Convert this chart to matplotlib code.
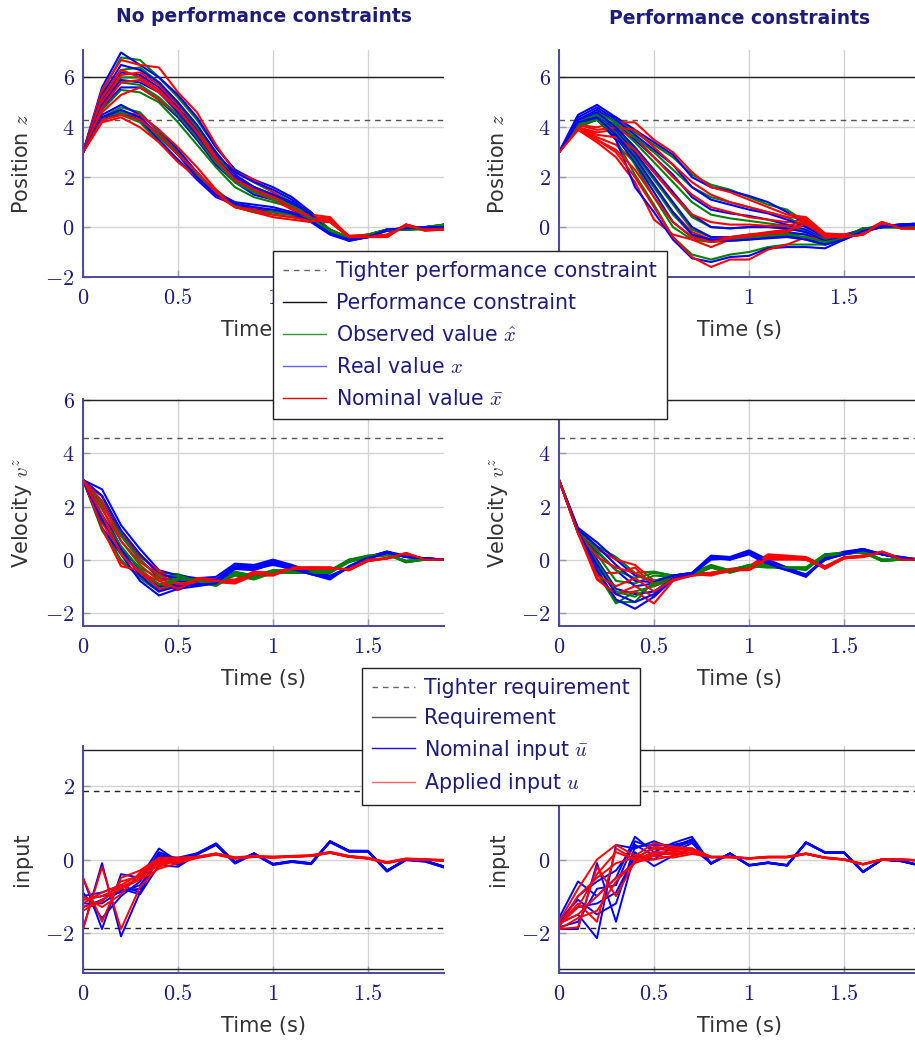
import matplotlib
matplotlib.use('Agg')
import matplotlib.pyplot as plt
from matplotlib.lines import Line2D
from matplotlib.ticker import FuncFormatter

plt.rcParams['font.family'] = ['DejaVu Sans']
plt.rcParams['mathtext.fontset'] = 'cm'

# ---------------- data ----------------
T = [0.0, 0.1, 0.2, 0.3, 0.4, 0.5, 0.6, 0.7, 0.8, 0.9,
     1.0, 1.1, 1.2, 1.3, 1.4, 1.5, 1.6, 1.7, 1.8, 1.9]

col_titles = ['No performance constraints', 'Performance constraints']
x_ticks = [0, 0.5, 1, 1.5]

# Position z, no performance constraints
pos_nc_obs = [
    [3.0, 5.4, 6.8, 6.7, 6.0, 5.2, 4.3, 3.2, 2.3, 1.8, 1.4, 1.0, 0.6, -0.1, -0.45, -0.35, -0.15, -0.1, -0.1, 0.1],
    [3.0, 5.0, 6.0, 6.0, 5.5, 4.7, 3.8, 2.8, 2.1, 1.6, 1.3, 0.9, 0.5, -0.1, -0.4, -0.3, -0.1, -0.1, -0.05, 0.1],
    [3.0, 4.7, 5.5, 5.4, 5.0, 4.2, 3.3, 2.4, 1.6, 1.2, 1.0, 0.8, 0.45, -0.1, -0.5, -0.3, -0.1, -0.1, 0.0, 0.1],
    [3.0, 4.4, 4.8, 4.6, 3.8, 3.0, 2.1, 1.5, 0.9, 0.7, 0.7, 0.6, 0.4, -0.1, -0.45, -0.35, -0.1, -0.1, -0.05, 0.1],
    [3.0, 4.3, 4.5, 4.2, 3.4, 2.7, 2.0, 1.3, 0.8, 0.6, 0.5, 0.4, 0.3, -0.2, -0.5, -0.35, -0.1, -0.05, 0.0, 0.1],
    [3.0, 5.2, 6.3, 6.4, 5.8, 5.0, 4.0, 3.0, 2.0, 1.5, 1.1, 0.8, 0.45, -0.15, -0.45, -0.3, -0.1, -0.1, -0.05, 0.1],
    [3.0, 4.9, 5.8, 5.7, 5.2, 4.5, 3.6, 2.6, 1.8, 1.4, 1.2, 0.85, 0.5, -0.1, -0.45, -0.3, -0.1, -0.1, -0.05, 0.1],
    [3.0, 4.4, 4.6, 4.4, 3.6, 2.9, 2.1, 1.4, 0.85, 0.65, 0.6, 0.5, 0.35, -0.15, -0.5, -0.35, -0.1, -0.1, 0.0, 0.1],
]
pos_nc_real = [
    [3.0, 5.6, 7.0, 6.5, 6.0, 5.3, 4.4, 3.2, 2.3, 1.9, 1.6, 1.2, 0.6, -0.2, -0.55, -0.4, -0.15, -0.1, 0.0, 0.0],
    [3.0, 5.1, 6.2, 6.1, 5.6, 4.8, 3.9, 2.9, 2.2, 1.8, 1.5, 1.1, 0.5, -0.2, -0.5, -0.4, -0.1, -0.1, 0.0, 0.0],
    [3.0, 4.8, 5.6, 5.6, 5.1, 4.4, 3.5, 2.5, 1.8, 1.3, 1.1, 0.8, 0.4, -0.2, -0.45, -0.35, -0.1, -0.05, 0.0, 0.05],
    [3.0, 4.5, 4.9, 4.5, 3.9, 3.1, 2.2, 1.4, 1.0, 0.9, 0.8, 0.6, 0.3, -0.2, -0.5, -0.35, -0.1, -0.05, 0.0, 0.0],
    [3.0, 4.3, 4.6, 4.3, 3.5, 2.7, 1.9, 1.2, 0.9, 0.7, 0.6, 0.5, 0.2, -0.3, -0.55, -0.4, -0.1, -0.1, 0.0, 0.0],
    [3.0, 5.3, 6.5, 6.3, 5.8, 5.0, 4.1, 3.0, 2.1, 1.6, 1.3, 0.9, 0.5, -0.25, -0.5, -0.4, -0.1, -0.05, 0.0, 0.05],
    [3.0, 4.9, 5.9, 5.8, 5.4, 4.6, 3.7, 2.7, 2.0, 1.6, 1.3, 1.0, 0.5, -0.2, -0.5, -0.4, -0.1, -0.05, 0.0, 0.05],
    [3.0, 4.4, 4.7, 4.4, 3.7, 2.9, 2.0, 1.3, 0.95, 0.8, 0.7, 0.55, 0.25, -0.25, -0.5, -0.4, -0.1, -0.05, 0.0, 0.0],
]
pos_nc_nom = [
    [3.0, 5.5, 6.7, 6.5, 6.4, 5.4, 4.6, 3.3, 2.2, 1.9, 1.4, 0.9, 0.5, 0.4, -0.4, -0.4, -0.4, 0.1, -0.1, -0.1],
    [3.0, 5.0, 6.1, 6.2, 5.7, 4.9, 4.0, 2.8, 1.8, 1.6, 1.2, 0.8, 0.4, 0.3, -0.35, -0.35, -0.35, 0.1, -0.1, -0.05],
    [3.0, 4.6, 5.3, 5.6, 5.1, 4.5, 3.6, 2.6, 1.9, 1.4, 1.1, 0.7, 0.3, 0.2, -0.4, -0.3, -0.4, 0.1, -0.15, -0.1],
    [3.0, 4.3, 4.6, 4.5, 3.9, 3.2, 2.4, 1.5, 0.8, 0.8, 0.6, 0.5, 0.3, 0.3, -0.4, -0.35, -0.35, 0.05, -0.1, -0.05],
    [3.0, 4.2, 4.4, 4.0, 3.4, 2.6, 2.0, 1.3, 0.8, 0.6, 0.4, 0.3, 0.2, 0.2, -0.4, -0.4, -0.3, 0.1, -0.1, -0.1],
    [3.0, 5.2, 6.3, 6.0, 5.5, 4.7, 3.8, 2.7, 2.0, 1.5, 1.3, 0.8, 0.4, 0.35, -0.4, -0.35, -0.4, 0.1, -0.1, -0.1],
    [3.0, 4.8, 5.8, 5.9, 5.4, 4.7, 3.8, 2.7, 1.9, 1.5, 1.2, 0.75, 0.35, 0.3, -0.35, -0.3, -0.35, 0.1, -0.1, -0.05],
    [3.0, 4.3, 4.5, 4.3, 3.7, 2.9, 2.2, 1.4, 0.8, 0.7, 0.5, 0.4, 0.25, 0.25, -0.4, -0.4, -0.3, 0.05, -0.1, -0.1],
]

# Position z, performance constraints
pos_pc_obs = [
    [3.0, 4.3, 4.6, 4.4, 3.8, 3.3, 2.8, 2.1, 1.7, 1.5, 1.2, 0.9, 0.7, 0.2, -0.35, -0.4, -0.05, 0.0, 0.0, 0.05],
    [3.0, 4.2, 4.5, 4.1, 3.4, 2.6, 1.8, 1.0, 0.5, 0.35, 0.25, 0.15, 0.05, -0.15, -0.45, -0.4, -0.05, 0.0, 0.0, 0.05],
    [3.0, 4.1, 4.4, 3.8, 2.9, 1.9, 0.9, -0.1, -0.4, -0.45, -0.35, -0.3, -0.25, -0.3, -0.6, -0.45, -0.1, 0.0, 0.0, 0.05],
    [3.0, 4.0, 4.3, 3.7, 2.5, 1.2, 0.0, -0.5, -0.6, -0.55, -0.5, -0.4, -0.3, -0.45, -0.65, -0.45, -0.1, 0.0, 0.0, 0.05],
    [3.0, 4.1, 4.3, 3.5, 2.1, 0.9, -0.4, -1.1, -1.3, -1.1, -1.0, -0.8, -0.7, -0.7, -0.7, -0.45, -0.1, 0.0, 0.0, 0.05],
    [3.0, 4.2, 4.6, 4.2, 3.6, 3.0, 2.3, 1.6, 1.2, 1.0, 0.8, 0.6, 0.4, 0.0, -0.4, -0.4, -0.05, 0.0, 0.0, 0.05],
    [3.0, 4.2, 4.5, 4.0, 3.1, 2.2, 1.3, 0.4, 0.0, -0.05, 0.0, 0.0, -0.05, -0.2, -0.5, -0.4, -0.05, 0.0, 0.0, 0.05],
    [3.0, 4.1, 4.3, 3.7, 2.7, 1.6, 0.5, -0.3, -0.55, -0.5, -0.45, -0.35, -0.3, -0.4, -0.6, -0.45, -0.1, 0.0, 0.0, 0.05],
]
pos_pc_real = [
    [3.0, 4.5, 4.9, 4.4, 3.9, 3.4, 2.9, 2.0, 1.6, 1.45, 1.25, 1.0, 0.6, 0.1, -0.3, -0.3, -0.1, 0.05, 0.1, 0.15],
    [3.0, 4.3, 4.7, 4.2, 3.5, 2.8, 2.1, 1.2, 0.7, 0.55, 0.45, 0.3, 0.1, -0.1, -0.5, -0.4, -0.1, 0.05, 0.1, 0.1],
    [3.0, 4.2, 4.5, 3.9, 3.0, 2.0, 1.0, 0.0, -0.4, -0.4, -0.3, -0.25, -0.2, -0.3, -0.6, -0.45, -0.15, 0.0, 0.1, 0.1],
    [3.0, 4.1, 4.3, 3.6, 2.6, 1.4, 0.2, -0.4, -0.5, -0.5, -0.45, -0.4, -0.35, -0.5, -0.7, -0.5, -0.15, 0.0, 0.05, 0.1],
    [3.0, 4.2, 4.4, 3.5, 1.6, 0.6, -0.5, -1.25, -1.4, -1.2, -1.15, -0.85, -0.8, -0.8, -0.85, -0.5, -0.2, 0.0, 0.05, 0.1],
    [3.0, 4.4, 4.8, 4.3, 3.7, 3.1, 2.5, 1.6, 1.1, 0.9, 0.7, 0.55, 0.3, 0.0, -0.4, -0.35, -0.1, 0.05, 0.1, 0.15],
    [3.0, 4.3, 4.6, 4.0, 3.2, 2.3, 1.4, 0.5, 0.0, -0.05, 0.0, 0.0, -0.05, -0.2, -0.55, -0.4, -0.1, 0.05, 0.1, 0.1],
    [3.0, 4.2, 4.4, 3.7, 2.8, 1.7, 0.6, -0.3, -0.5, -0.55, -0.5, -0.45, -0.4, -0.5, -0.7, -0.5, -0.15, 0.0, 0.05, 0.1],
]
pos_pc_nom = [
    [3.0, 4.1, 4.0, 4.2, 4.2, 3.5, 3.0, 2.2, 1.6, 1.4, 1.1, 0.8, 0.5, 0.4, -0.25, -0.3, -0.2, 0.2, -0.05, -0.05],
    [3.0, 4.0, 3.8, 3.9, 3.6, 2.8, 2.0, 1.3, 0.8, 0.6, 0.4, 0.3, 0.2, 0.3, -0.35, -0.35, -0.25, 0.15, 0.0, -0.05],
    [3.0, 4.0, 3.6, 3.3, 2.6, 1.6, 0.6, -0.2, -0.5, -0.4, -0.3, -0.2, -0.1, 0.2, -0.4, -0.4, -0.3, 0.15, -0.05, -0.05],
    [3.0, 3.9, 3.4, 2.8, 1.8, 0.3, -0.3, -0.5, -0.8, -0.5, -0.4, -0.3, -0.2, 0.1, -0.45, -0.4, -0.3, 0.2, -0.05, -0.05],
    [3.0, 4.0, 3.5, 3.0, 2.0, 0.8, -0.4, -1.2, -1.6, -1.3, -1.3, -0.9, -0.7, -0.4, -0.5, -0.4, -0.3, 0.15, 0.0, -0.05],
    [3.0, 4.1, 3.9, 4.0, 3.9, 3.2, 2.5, 1.8, 1.3, 1.0, 0.8, 0.6, 0.4, 0.35, -0.3, -0.3, -0.2, 0.2, -0.05, -0.05],
    [3.0, 4.0, 3.7, 3.6, 3.1, 2.2, 1.3, 0.5, 0.2, 0.1, 0.1, 0.05, 0.05, 0.25, -0.35, -0.35, -0.25, 0.15, 0.0, -0.05],
    [3.0, 3.9, 3.5, 3.1, 2.3, 1.2, 0.2, -0.4, -0.6, -0.45, -0.35, -0.25, -0.15, 0.15, -0.4, -0.4, -0.3, 0.2, -0.05, -0.05],
]

# Velocity v^z, no performance constraints
vel_nc_obs = [
    [3.0, 2.4, 1.1, 0.2, -0.5, -0.55, -0.75, -0.95, -0.45, -0.6, -0.4, -0.4, -0.4, -0.4, 0.0, 0.15, 0.2, -0.05, 0.0, 0.0],
    [3.0, 1.9, 0.7, -0.2, -0.8, -0.65, -0.8, -1.0, -0.55, -0.7, -0.45, -0.45, -0.45, -0.45, -0.05, 0.1, 0.2, -0.1, 0.0, 0.0],
    [3.0, 1.4, 0.3, -0.5, -1.1, -0.7, -0.85, -0.9, -0.6, -0.75, -0.5, -0.5, -0.5, -0.5, -0.1, 0.1, 0.15, -0.05, 0.0, 0.0],
    [3.0, 1.1, 0.0, -0.7, -1.2, -0.75, -0.8, -0.95, -0.5, -0.65, -0.4, -0.45, -0.45, -0.45, 0.0, 0.1, 0.2, -0.05, 0.0, 0.0],
    [3.0, 2.1, 0.9, 0.0, -0.65, -0.6, -0.8, -0.95, -0.5, -0.65, -0.45, -0.45, -0.45, -0.45, -0.05, 0.1, 0.2, -0.05, 0.0, 0.0],
    [3.0, 1.6, 0.5, -0.35, -0.95, -0.7, -0.8, -0.9, -0.55, -0.7, -0.45, -0.5, -0.5, -0.5, -0.05, 0.15, 0.2, -0.1, 0.0, 0.0],
]
vel_nc_real = [
    [3.0, 2.65, 1.3, 0.4, -0.4, -0.6, -0.7, -0.65, -0.15, -0.2, 0.0, -0.2, -0.45, -0.6, -0.3, 0.1, 0.3, 0.15, 0.05, 0.0],
    [3.0, 2.2, 0.9, 0.0, -0.7, -0.8, -0.85, -0.8, -0.25, -0.3, -0.1, -0.3, -0.5, -0.7, -0.3, 0.05, 0.25, 0.1, 0.05, 0.0],
    [3.0, 1.7, 0.5, -0.4, -1.0, -0.95, -0.9, -0.85, -0.3, -0.35, -0.2, -0.35, -0.55, -0.75, -0.25, 0.1, 0.3, 0.1, 0.05, 0.0],
    [3.0, 1.2, 0.2, -0.8, -1.35, -1.1, -1.0, -0.9, -0.35, -0.4, -0.15, -0.3, -0.5, -0.65, -0.3, 0.05, 0.25, 0.1, 0.05, 0.0],
    [3.0, 2.4, 1.1, 0.2, -0.55, -0.7, -0.8, -0.75, -0.2, -0.25, -0.05, -0.25, -0.5, -0.65, -0.3, 0.1, 0.3, 0.1, 0.05, 0.0],
    [3.0, 1.5, 0.4, -0.6, -1.2, -1.0, -0.95, -0.9, -0.3, -0.35, -0.15, -0.35, -0.55, -0.7, -0.25, 0.05, 0.25, 0.1, 0.05, 0.0],
]
vel_nc_nom = [
    [3.0, 2.4, 1.0, 0.1, -0.4, -0.9, -0.7, -0.75, -0.8, -0.5, -0.55, -0.3, -0.3, -0.3, -0.4, -0.05, 0.05, 0.2, 0.0, 0.0],
    [3.0, 2.0, 0.4, -0.3, -0.7, -1.0, -0.75, -0.8, -0.85, -0.55, -0.5, -0.3, -0.35, -0.35, -0.35, -0.05, 0.05, 0.2, 0.0, 0.0],
    [3.0, 1.5, -0.1, -0.6, -0.9, -1.15, -0.8, -0.85, -0.9, -0.6, -0.6, -0.35, -0.3, -0.3, -0.4, 0.0, 0.05, 0.25, 0.0, 0.0],
    [3.0, 1.2, -0.25, -0.4, -1.1, -1.05, -0.7, -0.75, -0.75, -0.45, -0.5, -0.3, -0.3, -0.35, -0.35, -0.05, 0.05, 0.2, 0.0, 0.0],
    [3.0, 2.2, 0.7, -0.1, -0.55, -0.95, -0.75, -0.8, -0.8, -0.5, -0.55, -0.3, -0.3, -0.3, -0.4, -0.05, 0.05, 0.2, 0.0, 0.0],
    [3.0, 1.7, 0.2, -0.5, -0.8, -1.1, -0.75, -0.8, -0.85, -0.55, -0.55, -0.35, -0.35, -0.35, -0.35, 0.0, 0.05, 0.25, 0.0, 0.0],
]

# Velocity v^z, performance constraints
vel_pc_obs = [
    [3.0, 1.15, 0.5, 0.1, -0.5, -0.45, -0.6, -0.5, -0.2, -0.4, -0.2, -0.2, -0.3, -0.3, 0.2, 0.25, 0.3, -0.05, 0.0, 0.0],
    [3.0, 1.1, 0.2, -0.8, -0.9, -0.6, -0.65, -0.6, -0.3, -0.5, -0.3, -0.25, -0.35, -0.35, 0.15, 0.2, 0.3, 0.0, 0.0, 0.0],
    [3.0, 1.05, -0.3, -1.6, -1.6, -0.8, -0.7, -0.6, -0.25, -0.45, -0.25, -0.3, -0.3, -0.4, 0.2, 0.25, 0.25, -0.05, 0.0, 0.0],
    [3.0, 1.0, -0.5, -1.65, -1.2, -1.0, -0.7, -0.55, -0.3, -0.4, -0.2, -0.2, -0.3, -0.3, 0.15, 0.2, 0.3, 0.0, 0.0, 0.0],
    [3.0, 1.1, 0.35, -0.4, -0.7, -0.5, -0.6, -0.55, -0.25, -0.45, -0.25, -0.2, -0.3, -0.3, 0.2, 0.25, 0.3, 0.0, 0.0, 0.0],
    [3.0, 1.05, -0.1, -1.2, -1.4, -0.9, -0.7, -0.6, -0.3, -0.45, -0.25, -0.25, -0.3, -0.35, 0.15, 0.2, 0.3, -0.05, 0.0, 0.0],
]
vel_pc_real = [
    [3.0, 1.2, 0.65, 0.0, -0.6, -0.8, -0.6, -0.5, 0.15, 0.1, 0.35, 0.0, -0.3, -0.6, 0.1, 0.3, 0.4, 0.2, 0.1, 0.0],
    [3.0, 1.1, 0.3, -0.4, -1.0, -0.9, -0.65, -0.55, 0.05, 0.05, 0.25, -0.1, -0.35, -0.6, 0.0, 0.25, 0.4, 0.2, 0.05, 0.0],
    [3.0, 1.1, 0.0, -1.1, -1.3, -1.2, -0.7, -0.6, 0.1, 0.0, 0.2, -0.2, -0.4, -0.65, 0.05, 0.2, 0.35, 0.2, 0.05, 0.0],
    [3.0, 1.0, -0.4, -1.5, -1.85, -1.4, -0.75, -0.55, 0.0, 0.05, 0.3, -0.15, -0.35, -0.55, 0.0, 0.2, 0.35, 0.2, 0.05, 0.0],
    [3.0, 1.15, 0.5, -0.2, -0.8, -0.85, -0.6, -0.5, 0.1, 0.05, 0.3, -0.05, -0.3, -0.6, 0.05, 0.25, 0.4, 0.2, 0.1, 0.0],
    [3.0, 1.05, -0.2, -1.3, -1.6, -1.3, -0.7, -0.55, 0.05, 0.0, 0.25, -0.15, -0.4, -0.6, 0.0, 0.2, 0.35, 0.2, 0.05, 0.0],
]
vel_pc_nom = [
    [3.0, 1.1, 0.4, 0.0, -0.2, -0.8, -0.7, -0.5, -0.5, -0.35, -0.25, 0.2, 0.15, 0.1, -0.25, 0.1, 0.15, 0.3, 0.05, 0.0],
    [3.0, 1.0, -0.5, -0.5, -0.3, -1.0, -0.75, -0.55, -0.6, -0.4, -0.35, 0.1, 0.1, 0.0, -0.3, 0.05, 0.15, 0.25, 0.05, 0.0],
    [3.0, 1.05, -0.7, -1.3, -1.0, -1.4, -0.7, -0.6, -0.55, -0.45, -0.3, 0.15, 0.05, 0.05, -0.35, 0.05, 0.1, 0.25, 0.0, 0.0],
    [3.0, 1.0, -0.75, -1.3, -1.2, -1.65, -0.8, -0.6, -0.5, -0.4, -0.4, 0.0, 0.0, 0.0, -0.3, 0.05, 0.15, 0.3, 0.05, 0.0],
    [3.0, 1.05, 0.1, -0.3, -0.5, -0.9, -0.7, -0.55, -0.55, -0.4, -0.3, 0.15, 0.1, 0.05, -0.3, 0.05, 0.15, 0.25, 0.05, 0.0],
    [3.0, 1.0, -0.6, -1.0, -0.7, -1.2, -0.75, -0.6, -0.5, -0.4, -0.35, 0.05, 0.05, 0.0, -0.3, 0.05, 0.1, 0.3, 0.0, 0.0],
]

# Input, no performance constraints
inp_nc_nom = [
    [-0.5, -1.9, -0.4, -0.5, 0.3, -0.05, 0.15, 0.42, -0.09, 0.16, -0.13, -0.05, -0.11, 0.49, 0.23, 0.23, -0.31, 0.0, -0.04, -0.2],
    [-1.9, -0.1, -2.1, -0.9, 0.1, 0.05, 0.17, 0.44, -0.07, 0.17, -0.12, -0.04, -0.1, 0.5, 0.24, 0.24, -0.3, 0.01, -0.03, -0.19],
    [-1.1, -1.0, -0.9, -0.7, 0.0, -0.1, 0.14, 0.4, -0.1, 0.15, -0.14, -0.06, -0.12, 0.48, 0.22, 0.22, -0.32, -0.01, -0.05, -0.21],
    [-1.3, -1.1, -0.8, -0.95, -0.15, -0.2, 0.13, 0.4, -0.11, 0.15, -0.15, -0.07, -0.13, 0.47, 0.21, 0.21, -0.33, -0.02, -0.06, -0.22],
    [-0.9, -1.6, -1.0, -0.6, 0.2, 0.0, 0.16, 0.43, -0.08, 0.17, -0.12, -0.05, -0.1, 0.5, 0.24, 0.23, -0.3, 0.0, -0.03, -0.19],
    [-1.2, -1.2, -0.85, -0.8, 0.05, -0.15, 0.15, 0.41, -0.1, 0.16, -0.13, -0.06, -0.12, 0.49, 0.23, 0.22, -0.31, 0.0, -0.04, -0.2],
    [-1.0, -0.9, -0.7, -0.9, 0.15, -0.05, 0.16, 0.43, -0.09, 0.16, -0.13, -0.05, -0.11, 0.49, 0.23, 0.23, -0.31, 0.0, -0.04, -0.2],
]
inp_nc_app = [
    [-0.5, -1.7, -0.5, -0.3, 0.05, 0.05, 0.08, 0.16, 0.05, 0.09, 0.07, 0.09, 0.11, 0.2, 0.09, 0.04, -0.08, 0.02, 0.0, -0.02],
    [-1.9, -0.2, -1.9, -0.75, -0.2, 0.0, 0.06, 0.15, 0.04, 0.08, 0.06, 0.08, 0.1, 0.19, 0.08, 0.03, -0.09, 0.01, 0.0, -0.03],
    [-1.2, -0.9, -0.7, -0.4, -0.1, -0.05, 0.05, 0.14, 0.03, 0.07, 0.05, 0.08, 0.1, 0.18, 0.07, 0.03, -0.1, 0.01, -0.01, -0.03],
    [-1.4, -1.1, -0.8, -0.55, -0.25, -0.1, 0.04, 0.13, 0.02, 0.07, 0.05, 0.07, 0.09, 0.18, 0.07, 0.02, -0.1, 0.0, -0.01, -0.04],
    [-1.0, -1.3, -0.95, -0.35, 0.0, 0.02, 0.07, 0.17, 0.06, 0.1, 0.08, 0.1, 0.12, 0.21, 0.1, 0.05, -0.07, 0.03, 0.01, -0.01],
    [-1.1, -1.0, -0.75, -0.5, -0.15, -0.05, 0.06, 0.15, 0.04, 0.08, 0.06, 0.08, 0.1, 0.19, 0.08, 0.03, -0.09, 0.01, 0.0, -0.03],
    [-1.3, -1.15, -0.6, -0.45, -0.05, 0.0, 0.06, 0.15, 0.04, 0.08, 0.06, 0.08, 0.1, 0.19, 0.08, 0.03, -0.09, 0.01, 0.0, -0.03],
]

# Input, performance constraints
inp_pc_nom = [
    [-1.6, -0.6, -1.0, -0.5, 0.62, 0.2, 0.45, 0.62, -0.11, 0.16, -0.16, -0.09, -0.16, 0.46, 0.19, 0.19, -0.34, 0.0, -0.04, -0.16],
    [-1.9, -1.9, -0.1, -1.7, 0.2, -0.18, 0.1, 0.3, -0.1, 0.17, -0.15, -0.08, -0.15, 0.47, 0.2, 0.2, -0.33, 0.01, -0.03, -0.15],
    [-1.75, -1.5, -2.15, 0.4, 0.3, 0.5, 0.3, 0.5, -0.12, 0.15, -0.17, -0.1, -0.17, 0.45, 0.18, 0.18, -0.35, -0.01, -0.05, -0.17],
    [-1.8, -1.0, -0.6, -0.3, 0.4, 0.1, 0.2, 0.45, -0.1, 0.16, -0.16, -0.09, -0.16, 0.46, 0.19, 0.19, -0.34, 0.0, -0.04, -0.16],
    [-1.7, -1.3, -1.2, -0.9, 0.1, 0.0, 0.35, 0.55, -0.11, 0.17, -0.15, -0.08, -0.15, 0.47, 0.2, 0.19, -0.33, 0.0, -0.04, -0.16],
    [-1.85, -1.7, -0.8, -0.7, 0.5, 0.3, 0.25, 0.55, -0.11, 0.16, -0.16, -0.09, -0.16, 0.46, 0.19, 0.19, -0.34, 0.0, -0.04, -0.16],
    [-1.65, -1.1, -1.5, -1.2, 0.35, 0.4, 0.4, 0.5, -0.1, 0.16, -0.16, -0.09, -0.16, 0.46, 0.19, 0.19, -0.34, 0.0, -0.04, -0.16],
]
inp_pc_app = [
    [-1.7, -0.8, 0.0, 0.4, 0.1, 0.45, 0.35, 0.3, 0.07, 0.07, 0.03, 0.07, 0.07, 0.16, 0.05, 0.0, -0.13, 0.0, 0.0, -0.02],
    [-1.9, -1.85, -0.2, -1.0, -0.05, 0.0, 0.1, 0.2, 0.06, 0.06, 0.02, 0.06, 0.06, 0.15, 0.04, -0.01, -0.14, -0.01, -0.01, -0.03],
    [-1.8, -1.2, -1.7, 0.3, 0.0, 0.2, 0.2, 0.25, 0.08, 0.08, 0.04, 0.08, 0.08, 0.17, 0.06, 0.01, -0.12, 0.01, 0.0, -0.02],
    [-1.75, -1.5, -1.0, -0.5, -0.1, 0.1, 0.05, 0.15, 0.07, 0.07, 0.03, 0.07, 0.07, 0.16, 0.05, 0.0, -0.13, 0.0, 0.0, -0.02],
    [-1.85, -1.0, -0.5, -0.1, 0.05, 0.3, 0.25, 0.3, 0.06, 0.06, 0.03, 0.06, 0.06, 0.15, 0.04, 0.0, -0.13, 0.0, -0.01, -0.03],
    [-1.8, -1.3, -0.4, 0.2, 0.0, 0.35, 0.3, 0.3, 0.07, 0.07, 0.03, 0.07, 0.07, 0.16, 0.05, 0.0, -0.13, 0.0, 0.0, -0.02],
    [-1.9, -1.6, -1.4, -0.6, -0.05, 0.15, 0.15, 0.2, 0.06, 0.06, 0.03, 0.06, 0.06, 0.15, 0.04, 0.0, -0.13, 0.0, -0.01, -0.03],
]

# constraint levels
pos_limit, pos_tight = 6.0, 4.28
vel_limit, vel_tight = 6.0, 4.57
inp_limit, inp_tight = 3.0, 1.87

# ---------------- styling ----------------
NAVY = '#1c1c7c'
SPINE = '#4a4a98'
LABEL = '#333333'
GREEN, BLUE, RED = '#008000', '#0000ff', '#ff0000'
W, H = 915, 1044

fig = plt.figure(figsize=(W / 100, H / 100), dpi=100)

col_left = [83, 559]
col_w = 361
rows = [(50, 277), (399, 626), (746, 973)]

fmt = FuncFormatter(lambda v, p: f'${v:g}$')


def make_ax(r, c, ylim, yticks, ylabel):
    top, bot = rows[r]
    ax = fig.add_axes([col_left[c] / W, 1 - bot / H, col_w / W, (bot - top) / H])
    ax.set_xlim(0, 1.9)
    ax.set_ylim(*ylim)
    ax.set_xticks(x_ticks)
    ax.set_yticks(yticks)
    ax.xaxis.set_major_formatter(fmt)
    ax.yaxis.set_major_formatter(fmt)
    ax.tick_params(direction='in', length=5, width=1, color='#9a9a9a',
                   labelsize=16, labelcolor=NAVY)
    ax.tick_params(axis='x', pad=8)
    ax.tick_params(axis='y', pad=6)
    ax.grid(True, color='#d2d2d2', lw=1.0)
    ax.set_axisbelow(True)
    for s in ['top', 'right']:
        ax.spines[s].set_visible(False)
    for s in ['left', 'bottom']:
        ax.spines[s].set_color(SPINE)
        ax.spines[s].set_linewidth(1.4)
    ax.set_xlabel('Time (s)', fontsize=15, color=LABEL)
    ax.xaxis.set_label_coords(0.5, -0.19)
    ax.set_ylabel(ylabel, fontsize=15, color=LABEL, va='center')
    ax.yaxis.set_label_coords(-0.168, 0.5)
    return ax


def draw_state(ax, obs, real, nom, limit, tight):
    ax.axhline(limit, color='#222222', lw=1.0, zorder=1.5)
    ax.axhline(tight, color='#555555', lw=1.0, dashes=(4, 3.5), zorder=1.5)
    for g, b, r in zip(obs, real, nom):
        ax.plot(T, g, color=GREEN, lw=1.5)
        ax.plot(T, b, color=BLUE, lw=1.5)
        ax.plot(T, r, color=RED, lw=1.5)


def draw_input(ax, nom, app, limit, tight):
    for v in (limit, -limit):
        ax.axhline(v, color='#222222', lw=1.0, zorder=1.5)
    for v in (tight, -tight):
        ax.axhline(v, color='#222222', lw=1.0, dashes=(4, 3.5), zorder=1.5)
    for b in nom:
        ax.plot(T, b, color=BLUE, lw=1.4)
    for r in app:
        ax.plot(T, r, color=RED, lw=1.4)


pos_data = [(pos_nc_obs, pos_nc_real, pos_nc_nom), (pos_pc_obs, pos_pc_real, pos_pc_nom)]
vel_data = [(vel_nc_obs, vel_nc_real, vel_nc_nom), (vel_pc_obs, vel_pc_real, vel_pc_nom)]
inp_data = [(inp_nc_nom, inp_nc_app), (inp_pc_nom, inp_pc_app)]

for c in range(2):
    ax = make_ax(0, c, (-2, 7.1), [-2, 0, 2, 4, 6], 'Position $z$')
    draw_state(ax, *pos_data[c], pos_limit, pos_tight)
    ax = make_ax(1, c, (-2.5, 6.05), [-2, 0, 2, 4, 6], 'Velocity $v^z$')
    draw_state(ax, *vel_data[c], vel_limit, vel_tight)
    ax = make_ax(2, c, (-3.1, 3.1), [-2, 0, 2], 'input')
    draw_input(ax, *inp_data[c], inp_limit, inp_tight)

# column titles
fig.text((83 + 180.5) / W, 1 - 16 / H, col_titles[0], ha='center', va='center',
         fontsize=13.5, fontweight='bold', color=NAVY)
fig.text((559 + 180.5) / W, 1 - 18 / H, col_titles[1], ha='center', va='center',
         fontsize=13.5, fontweight='bold', color=NAVY)

# legends
h1 = [Line2D([], [], color='#666666', lw=1.0, dashes=(4, 3.5)),
      Line2D([], [], color='#111111', lw=1.0),
      Line2D([], [], color='#2a9a2a', lw=1.0),
      Line2D([], [], color='#6060ff', lw=1.0),
      Line2D([], [], color='#e00000', lw=1.0)]
l1 = ['Tighter performance constraint', 'Performance constraint',
      'Observed value $\\hat{x}$', 'Real value $x$', 'Nominal value $\\bar{x}$']
leg1 = fig.legend(h1, l1, loc='upper left', bbox_to_anchor=(273 / W, 1 - 251 / H),
                  fontsize=14.8, frameon=True, fancybox=False, edgecolor='#222222',
                  framealpha=1, handlelength=2.1, handletextpad=0.45,
                  labelspacing=0.58, borderpad=0.5, borderaxespad=0)
leg1.get_frame().set_linewidth(1.0)
for t in leg1.get_texts():
    t.set_color(NAVY)

h2 = [Line2D([], [], color='#666666', lw=1.0, dashes=(4, 3.5)),
      Line2D([], [], color='#555555', lw=1.0),
      Line2D([], [], color='#1010e0', lw=1.0),
      Line2D([], [], color='#ff6060', lw=1.0)]
l2 = ['Tighter requirement', 'Requirement', 'Nominal input $\\bar{u}$', 'Applied input $u$']
leg2 = fig.legend(h2, l2, loc='upper left', bbox_to_anchor=(362 / W, 1 - 668 / H),
                  fontsize=14.8, frameon=True, fancybox=False, edgecolor='#222222',
                  framealpha=1, handlelength=2.1, handletextpad=0.45,
                  labelspacing=0.48, borderpad=0.48, borderaxespad=0)
leg2.get_frame().set_linewidth(1.0)
for t in leg2.get_texts():
    t.set_color(NAVY)

fig.savefig('out.png', dpi=100, facecolor='white')
